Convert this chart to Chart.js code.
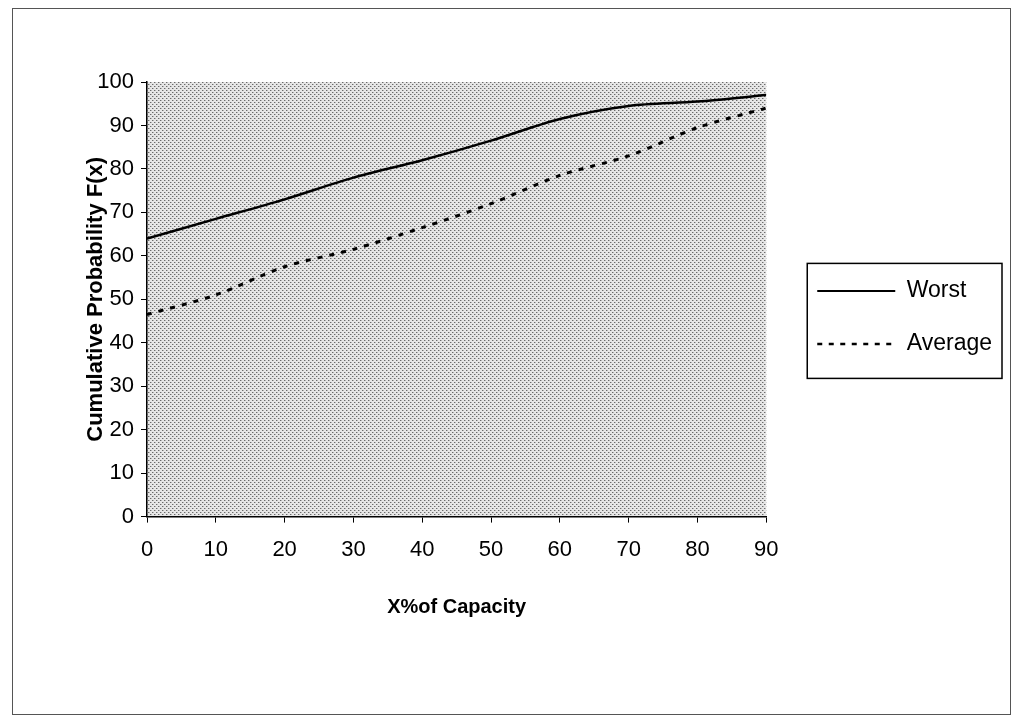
<!DOCTYPE html>
<html>
<head>
<meta charset="utf-8">
<script src="https://cdn.jsdelivr.net/npm/chart.js@4.4.1/dist/chart.umd.min.js"></script>
<style>
  html, body { margin: 0; padding: 0; background: #fff; }
  #frame { position: absolute; left: 12px; top: 8px; width: 997px; height: 705px; border: 1px solid #555; }
  #wrap { position: absolute; left: 0; top: 0; width: 1016px; height: 723px; }
</style>
</head>
<body>
<div id="frame"></div>
<div id="wrap"><canvas id="myChart" width="1016" height="723"></canvas></div>
<script>
const capacity = [0, 10, 20, 30, 40, 50, 60, 70, 80, 90];
const worst = [64, 68.5, 73, 78, 82, 86.5, 91.5, 94.5, 95.5, 97];
const average = [46.5, 51, 57.5, 61.5, 66.5, 72, 78.5, 83, 89.5, 94];

// stippled plot background like the original print
const tile = document.createElement("canvas");
tile.width = 4; tile.height = 4;
const tctx = tile.getContext("2d");
tctx.fillStyle = "#e6e6e6";
tctx.fillRect(0, 0, 4, 4);
tctx.fillStyle = "#6a6a6a";
tctx.fillRect(0, 0, 1, 1);
tctx.fillRect(2, 2, 1, 1);
tctx.fillStyle = "#b4b4b4";
tctx.fillRect(1, 0, 1, 1);
tctx.fillRect(3, 2, 1, 1);

const plotBg = {
  id: "plotBg",
  beforeDraw(chart) {
    const {ctx, chartArea: a} = chart;
    ctx.save();
    ctx.fillStyle = ctx.createPattern(tile, "repeat");
    ctx.fillRect(a.left, a.top, a.right - a.left, a.bottom - a.top);
    ctx.restore();
  }
};

// push the legend right so there is a gap after the plot, then frame the items
const legendShift = 21;
const legendBox = {
  id: "legendBox",
  afterLayout(chart) {
    chart.legend.left += legendShift;
    chart.legend.right += legendShift;
  },
  afterDraw(chart) {
    const hb = chart.legend.legendHitBoxes;
    if (!hb || !hb.length) return;
    const left = Math.min(...hb.map(b => b.left)) - 10;
    const top = Math.min(...hb.map(b => b.top)) - 16;
    const right = Math.min(Math.max(...hb.map(b => b.left + b.width)) + 10, 1006);
    const bottom = Math.max(...hb.map(b => b.top + b.height)) + 23;
    const ctx = chart.ctx;
    ctx.save();
    ctx.strokeStyle = "#000";
    ctx.lineWidth = 1.5;
    ctx.strokeRect(left, top, right - left, bottom - top);
    ctx.restore();
  }
};

new Chart("myChart", {
  type: "line",
  data: {
    datasets: [{
      label: "Worst",
      data: capacity.map((x, i) => ({x: x, y: worst[i]})),
      borderColor: "#000",
      borderWidth: 2.5,
      pointRadius: 0,
      tension: 0.3
    }, {
      label: "Average",
      data: capacity.map((x, i) => ({x: x, y: average[i]})),
      borderColor: "#000",
      borderWidth: 3,
      borderDash: [5, 7],
      pointRadius: 0,
      tension: 0.3
    }]
  },
  options: {
    responsive: false,
    animation: false,
    layout: {padding: {left: 83, top: 82, right: 35, bottom: 100}},
    scales: {
      x: {
        type: "linear",
        min: 0, max: 90,
        ticks: {stepSize: 10, color: "#000", padding: 14, font: {family: "Liberation Sans", size: 22}},
        grid: {drawOnChartArea: false, color: "#000", tickLength: 6},
        border: {color: "#000", width: 1.5},
        title: {display: true, text: "X%of Capacity", color: "#000", padding: {top: 18}, font: {family: "Liberation Sans", size: 20, weight: "bold"}}
      },
      y: {
        min: 0, max: 100,
        afterFit(scale) { scale.width = 64; },
        ticks: {stepSize: 10, color: "#000", padding: 7, font: {family: "Liberation Sans", size: 22}},
        grid: {drawOnChartArea: false, color: "#000", tickLength: 6},
        border: {color: "#000", width: 1.5},
        title: {display: true, text: "Cumulative Probability F(x)", color: "#000", padding: 0, font: {family: "Liberation Sans", size: 22, weight: "bold"}}
      }
    },
    plugins: {
      legend: {
        position: "right",
        align: "start",
        title: {display: true, text: " ", padding: {top: 153, bottom: 0}},
        labels: {
          color: "#000",
          usePointStyle: true,
          pointStyle: "line",
          pointStyleWidth: 78,
          boxHeight: 10,
          padding: 30,
          font: {family: "Liberation Sans", size: 23},
          generateLabels(chart) {
            const items = Chart.defaults.plugins.legend.labels.generateLabels(chart);
            return items.map((it, i) => Object.assign(it, {
              lineDash: i === 1 ? [5, 6.5] : [],
              lineWidth: i === 1 ? 2.5 : 2
            }));
          }
        }
      },
      tooltip: {enabled: false}
    }
  },
  plugins: [plotBg, legendBox]
});
</script>
</body>
</html>
